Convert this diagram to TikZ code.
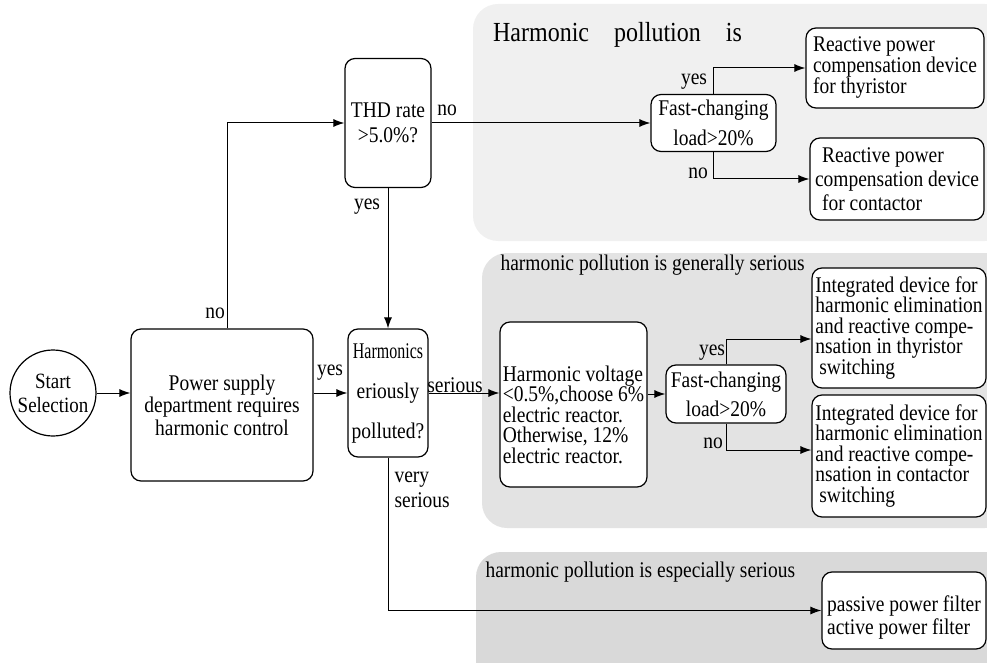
\documentclass[tikz,border=0pt]{standalone}
\usepackage{fontspec}
\setmainfont{Liberation Serif}[FakeStretch=0.87]
\usepackage{graphicx}
\usetikzlibrary{calc,shapes,arrows.meta}

\begin{document}
\begin{tikzpicture}[x=1pt,y=-1pt,
    font=\fontsize{22.4}{20}\selectfont,
    box/.style={draw,rectangle,rounded corners=10pt,fill=white,line width=1.2pt,inner sep=2pt},
    line/.style={line width=1pt,-{Latex[length=11pt,width=8pt]}},
    panel/.style={rounded corners=25pt}]
        \clip (0,0) rectangle (987,663);
        % grey areas
        \fill[gray!12,panel] (473,4) rectangle (1010,241);
        \fill[gray!22,panel] (482,253) rectangle (1010,528);
        \fill[gray!30,panel] (476,552) rectangle (1010,690);
        \node[font=\fontsize{27.6}{28}\selectfont] (title1) at (617.5,35) {Harmonic\hspace{25pt}pollution\hspace{25pt}is};
        \node[anchor=west] (title2) at (497,265) {harmonic pollution is generally serious};
        \node[anchor=west] (title3) at (482,572) {harmonic pollution is especially serious};
        % left part
        \node[draw,circle,minimum size=86pt,line width=1.2pt,inner sep=0pt,align=center,font=\fontsize{21.8}{24}\selectfont] (start) at (53,393) {Start\\Selection};
        \node[box,minimum width=182pt,minimum height=152pt,align=center,font=\fontsize{22.4}{22.5}\selectfont] (supply) at (222,405) {Power supply\\department requires\\harmonic control};
        \node[box,minimum width=86pt,minimum height=129pt,align=center,font=\fontsize{22.4}{25}\selectfont] (thd) at (388,123) {THD rate\\>5.0\%?};
        \node[box,minimum width=80pt,minimum height=128pt,align=center,font=\fontsize{22.4}{40}\selectfont] (harm) at (388,393) {\scalebox{0.82}[1]{Harmonics}\\eriously\\polluted?};
        % right part
        \node[box,minimum width=147pt,minimum height=165pt,label={[align=left,yshift=-10pt,font=\fontsize{22.4}{20.5}\selectfont]center:Harmonic voltage\\<0.5\%,choose 6\%\\electric reactor.\\Otherwise, 12\%\\electric reactor.}] (react) at (573.5,404.5) {};
        \node[box,minimum width=125pt,minimum height=57pt,align=center,font=\fontsize{22.4}{30}\selectfont] (fast1) at (713.5,123) {Fast-changing\\load>20\%};
        \node[box,minimum width=120pt,minimum height=58pt,align=center,font=\fontsize{22.4}{29}\selectfont] (fast2) at (726,394) {Fast-changing\\load>20\%};
        \node[box,minimum width=178pt,minimum height=80pt,align=left,font=\fontsize{22.4}{21}\selectfont] (reactT) at (895,68) {Reactive power\\compensation device\\for thyristor};
        \node[box,minimum width=174pt,minimum height=82pt,align=left,font=\fontsize{22.4}{24}\selectfont] (reactC) at (897,179) {\hspace*{7pt}Reactive power\\compensation device\\\hspace*{7pt}for contactor};
        \node[box,minimum width=174pt,minimum height=120pt,align=left,font=\fontsize{22.4}{20.5}\selectfont] (intT) at (899,328) {Integrated device for\\harmonic elimination\\and reactive compe-\\nsation in thyristor\\\hspace*{4pt}switching};
        \node[box,minimum width=174pt,minimum height=122pt,align=left,font=\fontsize{22.4}{20.5}\selectfont] (intC) at (899,456) {Integrated device for\\harmonic elimination\\and reactive compe-\\nsation in contactor\\\hspace*{4pt}switching};
        \node[box,minimum width=164pt,minimum height=77pt,label={[align=left,yshift=-7pt,font=\fontsize{22.4}{23}\selectfont]center:passive power filter\\active power filter}] (filter) at (904,610.5) {};
        % labels
        \node (no1) at (215,313) {no};
        \node (yes1) at (330,373) {yes};
        \node (no2) at (447,110) {no};
        \node (yes2) at (367,207) {yes};
        \node (ser) at (455,385) {serious};
        \node[anchor=west,align=left,font=\fontsize{22.4}{25}\selectfont] (vser) at (391,490) {very\\serious};
        \node (yes3) at (694,82) {yes};
        \node (no3) at (698,173) {no};
        \node (yes4) at (712,353) {yes};
        \node (no4) at (713,443) {no};
        % arrows
        \draw[line] (start) -- (supply.west |- start);
        \draw[line] (supply.east |- harm) -- (harm.west);
        \draw[line] ([xshift=5pt]supply.north) |- (thd.west);
        \draw[line] (thd) -- (fast1);
        \draw[line] (thd) -- (harm);
        \draw[line] (harm.east) -- (harm.east -| react.west);
        \draw[line] (react.east |- fast2) -- (fast2.west);
        \draw[line] (fast1.north) |- (reactT.west);
        \draw[line] (fast1.south) |- (reactC.west);
        \draw[line] (fast2.north) |- ([yshift=-11pt]intT.west);
        \draw[line] (fast2.south) |- ([yshift=6pt]intC.west);
        \draw[line] (harm.south) |- (filter.west);
    \end{tikzpicture}
\end{document}
